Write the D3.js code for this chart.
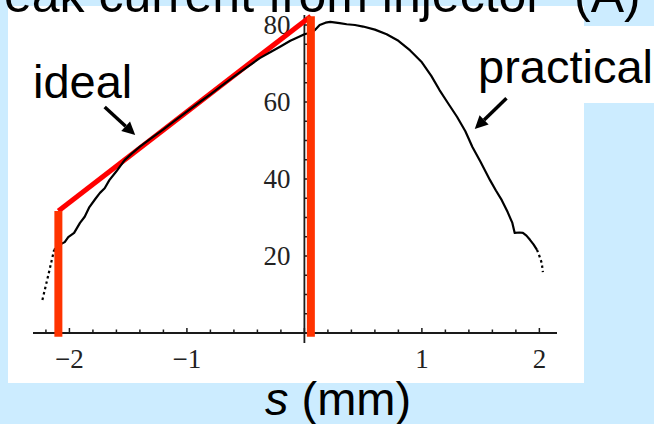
<!DOCTYPE html>
<html>
<head>
<meta charset="utf-8">
<script src="https://cdn.jsdelivr.net/npm/d3@7"></script>
<style>
  html, body { margin: 0; padding: 0; background: #ccecff; }
  svg { display: block; }
</style>
</head>
<body>
<svg id="chart" width="654" height="424"></svg>
<script>
// Measured bunch profile: position s (mm) vs peak current (A)
const sPractical = [-2.23, -2.18, -2.13, -2.08, -2.04, -2.01, -1.96, -1.91, -1.87, -1.83, -1.78, -1.74, -1.70, -1.66,
  -1.60, -1.53, -1.47, -1.40, -1.30, -1.20, -1.10, -1.00, -0.89, -0.80, -0.70, -0.60, -0.50, -0.38, -0.28, -0.20,
  -0.12, -0.05, 0.00, 0.05, 0.09, 0.13, 0.18, 0.22, 0.30, 0.36, 0.43, 0.50, 0.60, 0.70, 0.80, 0.90, 1.00, 1.08,
  1.15, 1.22, 1.30, 1.37, 1.43, 1.50, 1.58, 1.63, 1.68, 1.73, 1.77, 1.79, 1.83, 1.86, 1.89, 1.92, 1.95, 1.98,
  2.00, 2.02, 2.03];
const iPractical = [8.6, 15.0, 21.6, 23.0, 23.6, 24.9, 26.0, 28.6, 30.2, 32.7, 34.8, 36.4, 37.6, 39.7,
  42.0, 44.9, 46.6, 48.4, 50.7, 52.9, 55.2, 57.5, 60.0, 62.0, 64.3, 66.6, 68.8, 71.4, 73.1, 74.5,
  75.9, 76.9, 77.6, 78.0, 78.7, 80.0, 80.6, 80.8, 80.5, 80.2, 80.0, 79.6, 78.8, 77.6, 75.9, 73.4, 70.3, 66.8,
  63.1, 59.8, 56.1, 52.4, 48.3, 44.4, 39.7, 37.0, 34.5, 31.4, 28.6, 26.0, 26.1, 26.0, 25.3, 24.2, 23.0, 21.6,
  20.0, 18.2, 15.8];

// Ideal linear ramp between the two hard edges
const sIdeal = [-2.094, 0.055];
const iIdeal = [31.7, 82.3];
const iEdgeBase = -1.0;

// Axis ticks
const xMinorTicks = d3.range(-2.2, 2.01, 0.2).map(v => +v.toFixed(1));
const xTickValues = [-2, -1, 1, 2];
const xTickLabels = ["\u22122", "\u22121", "1", "2"];
const yMinorTicks = d3.range(5, 81, 5);
const yTickValues = [20, 40, 60, 80];
const yTickLabels = ["20", "40", "60", "80"];

const titleText = "Peak current from injector";
const titleUnit = "(A)";

const svg = d3.select("#chart");

const x = d3.scaleLinear().domain([-2.31, 2.15]).range([33, 557]);
const y = d3.scaleLinear().domain([-2.6, 82.6]).range([343, 15]);

// white panels
svg.append("rect").attr("x", 8).attr("y", 6).attr("width", 576).attr("height", 377).attr("fill", "#ffffff");
svg.append("rect").attr("x", 470).attr("y", 26).attr("width", 184).attr("height", 77).attr("fill", "#ffffff");

const axisColor = "#1a1a1a";
// x axis
svg.append("line")
  .attr("x1", x(-2.31)).attr("x2", x(2.15)).attr("y1", y(0)).attr("y2", y(0))
  .attr("stroke", axisColor).attr("stroke-width", 1.8);
svg.append("g").selectAll("line").data(xMinorTicks).join("line")
  .attr("x1", d => x(d)).attr("x2", d => x(d))
  .attr("y1", y(0)).attr("y2", d => y(0) - (Number.isInteger(d) ? 5 : 3.5))
  .attr("stroke", axisColor).attr("stroke-width", 1.5);
svg.append("g").selectAll("text").data(xTickValues).join("text")
  .attr("x", d => x(d)).attr("y", y(0) + 35)
  .attr("text-anchor", "middle")
  .attr("font-family", "'Liberation Serif', 'Times New Roman', serif")
  .attr("font-size", 27).attr("fill", "#222")
  .text((d, i) => xTickLabels[i]);

// y axis
svg.append("line")
  .attr("x1", x(0)).attr("x2", x(0)).attr("y1", y(-2.6)).attr("y2", y(82.6))
  .attr("stroke", axisColor).attr("stroke-width", 1.8);
svg.append("g").selectAll("line").data(yMinorTicks).join("line")
  .attr("x1", x(0)).attr("x2", d => x(0) + (d % 20 === 0 ? 5 : 3.5))
  .attr("y1", d => y(d)).attr("y2", d => y(d))
  .attr("stroke", axisColor).attr("stroke-width", 1.5);
svg.append("g").selectAll("text").data(yTickValues).join("text")
  .attr("x", x(0) - 14).attr("y", d => y(d) + 9)
  .attr("text-anchor", "end")
  .attr("font-family", "'Liberation Serif', 'Times New Roman', serif")
  .attr("font-size", 27).attr("fill", "#222")
  .text((d, i) => yTickLabels[i]);

// ideal ramp
const ideal = sIdeal.map((s, i) => [s, iIdeal[i]]);
svg.append("path")
  .attr("d", d3.line().x(d => x(d[0])).y(d => y(d[1]))(ideal))
  .attr("fill", "none").attr("stroke", "#ff0000").attr("stroke-width", 5);

// practical profile
const prac = sPractical.map((s, i) => [s, iPractical[i]]);
const line = d3.line().x(d => x(d[0])).y(d => y(d[1]));
const core = prac.filter(d => d[0] >= -2.13 && d[0] <= 1.98);
const headTail = prac.filter(d => d[0] <= -2.13);
const tail = prac.filter(d => d[0] >= 1.98);
svg.append("path").attr("d", line(core))
  .attr("fill", "none").attr("stroke", "#000").attr("stroke-width", 2.2).attr("stroke-linejoin", "round");
[headTail, tail].forEach(seg => {
  svg.append("path").attr("d", line(seg))
    .attr("fill", "none").attr("stroke", "#000").attr("stroke-width", 2.2)
    .attr("stroke-dasharray", "2.5,3");
});

// hard edges of the ideal profile
svg.append("g").selectAll("line").data(ideal).join("line")
  .attr("x1", d => x(d[0])).attr("x2", d => x(d[0]))
  .attr("y1", y(iEdgeBase)).attr("y2", d => y(d[1]))
  .attr("stroke", "#ff3300").attr("stroke-width", 8);

// labels and arrows
const labelFont = "'Liberation Sans', Arial, sans-serif";
svg.append("text").attr("x", 543).attr("y", 12).attr("text-anchor", "end")
  .attr("font-family", labelFont).attr("font-size", 50).attr("fill", "#000").text(titleText);
svg.append("text").attr("x", 574).attr("y", 12)
  .attr("font-family", labelFont).attr("font-size", 50).attr("fill", "#000").text(titleUnit);

svg.append("text").attr("x", 33).attr("y", 98)
  .attr("font-family", labelFont).attr("font-size", 47).attr("fill", "#000").text("ideal");
svg.append("text").attr("x", 478).attr("y", 83)
  .attr("font-family", labelFont).attr("font-size", 47).attr("fill", "#000").text("practical");

const xl = svg.append("text").attr("x", 265).attr("y", 415)
  .attr("font-family", labelFont).attr("font-size", 47).attr("fill", "#000");
xl.append("tspan").attr("font-style", "italic").text("s");
xl.append("tspan").text(" (mm)");

// arrows: [start s, start I, tip s, tip I]
const arrows = [
  [-1.70, 58.7, -1.44, 51.4],
  [1.72, 61.0, 1.45, 53.0]
];
arrows.forEach(([s0, i0, s1, i1]) => {
  const x0 = x(s0), y0 = y(i0), x1 = x(s1), y1 = y(i1);
  const ang = Math.atan2(y1 - y0, x1 - x0);
  const len = 13, half = 6.5;
  const bx = x1 - len * Math.cos(ang), by = y1 - len * Math.sin(ang);
  svg.append("line").attr("x1", x0).attr("y1", y0).attr("x2", bx).attr("y2", by)
    .attr("stroke", "#000").attr("stroke-width", 3.5);
  const px = -Math.sin(ang), py = Math.cos(ang);
  svg.append("polygon")
    .attr("points", [[x1, y1], [bx + px * half, by + py * half], [bx - px * half, by - py * half]].map(p => p.join(",")).join(" "))
    .attr("fill", "#000");
});
</script>
</body>
</html>
